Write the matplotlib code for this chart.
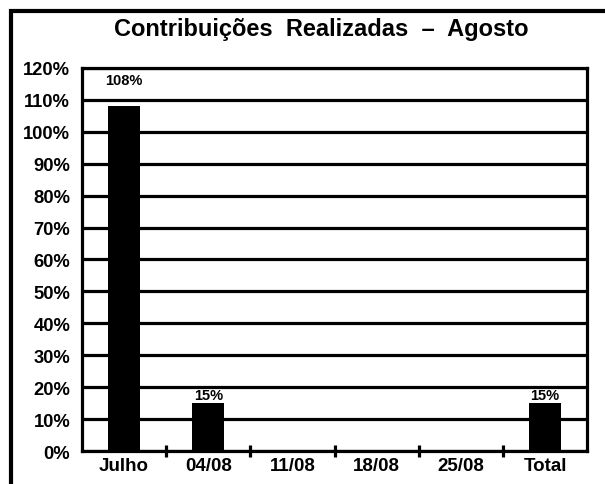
import matplotlib

matplotlib.use("Agg")
import matplotlib.pyplot as plt
from matplotlib.patches import Rectangle

plt.rcParams["font.family"] = ["Liberation Sans", "DejaVu Sans"]
plt.rcParams["font.weight"] = "bold"

CATEGORIES = ["Julho", "04/08", "11/08", "18/08", "25/08", "Total"]
VALUES = [108, 15, 0, 0, 0, 15]            # % realized, 0 = no bar
BAR_LABELS = ["108%", "15%", "", "", "", "15%"]
Y_TICKS = list(range(0, 121, 10))
LABEL_PAD = [14, 1, 0, 0, 0, 1]            # points above bar top

LW = 2.3

fig = plt.figure(figsize=(6.05, 4.85), dpi=100)
ax = fig.add_axes([0.1355, 0.068, 0.835, 0.79])

x = list(range(len(CATEGORIES)))
ax.bar(x, VALUES, width=0.38, color="black", zorder=3)
ax.set_xlim(-0.5, len(CATEGORIES) - 0.5)
ax.set_ylim(0, 120)

ax.set_yticks(Y_TICKS)
ax.set_yticklabels([f"{v}%" for v in Y_TICKS], fontsize=13.2, fontweight="bold")
ax.yaxis.grid(True, color="black", linewidth=LW, zorder=1)
ax.tick_params(axis="y", length=0, pad=8.5)

ax.set_xticks(x)
ax.set_xticklabels(CATEGORIES, fontsize=13.5, fontweight="bold")
ax.tick_params(axis="x", which="major", length=0, pad=4)
ax.set_xticks([i + 0.5 for i in x[:-1]], minor=True)
ax.tick_params(axis="x", which="minor", direction="inout", length=8.6, width=LW)

for s in ax.spines.values():
    s.set_linewidth(LW)

for xi, v, lab, pad in zip(x, VALUES, BAR_LABELS, LABEL_PAD):
    if lab:
        ax.annotate(lab, (xi, v), xytext=(0, pad), textcoords="offset points",
                    ha="center", va="bottom", fontsize=10.5, fontweight="bold")

fig.text(0.531, 0.926, "Contribuições  Realizadas  –  Agosto", ha="center",
         va="baseline", fontsize=17, fontweight="bold")

# outer frame, running off the right and bottom edges
fig.patches.append(Rectangle((11 / 605, -0.2), 1.2, 0.2 + 1 - 12 / 485,
                             transform=fig.transFigure, fill=False,
                             edgecolor="black", linewidth=3))

fig.savefig("out.png", dpi=100)
